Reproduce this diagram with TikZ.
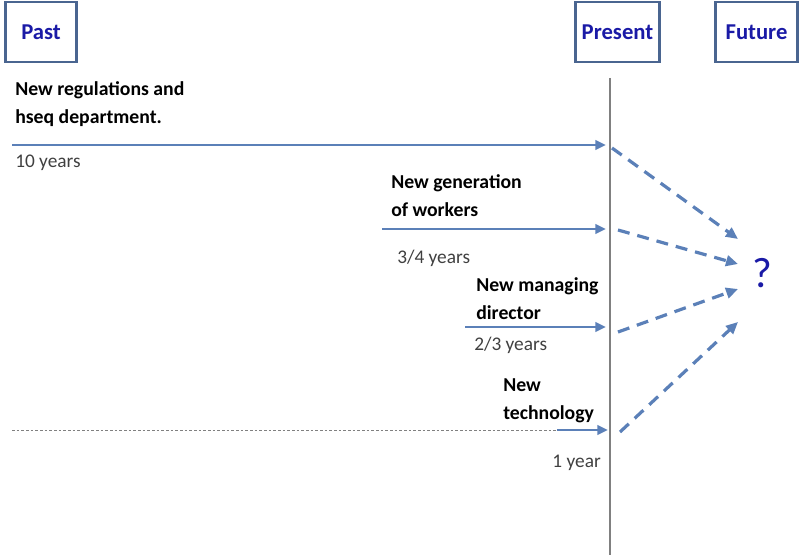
\documentclass[tikz,border=0pt]{standalone}
\usepackage{fontspec}
\setmainfont{Carlito}
\usetikzlibrary{arrows.meta}
\definecolor{boxborder}{HTML}{4A6590}
\definecolor{titleblue}{HTML}{1A1AA6}
\definecolor{arrowblue}{HTML}{5B80B8}
\definecolor{linegray}{HTML}{808080}
\begin{document}
\begin{tikzpicture}[x=0.75pt,y=-0.75pt,
  titlebox/.style={draw=boxborder,line width=2.2pt,minimum height=45pt,inner sep=0pt,font=\fontsize{17}{20}\selectfont\bfseries,text=titleblue},
  lbl/.style={anchor=north west,align=left,inner sep=0pt,font=\fontsize{14.8}{21}\selectfont\bfseries},
  yrs/.style={anchor=north west,inner sep=0pt,font=\fontsize{14.5}{17}\selectfont,text=black!75},
  solidarrow/.style={draw=arrowblue,line width=2pt,-{Triangle[length=8pt,width=7pt]}},
  dasharrow/.style={draw=arrowblue,line width=2.4pt,dash pattern=on 9pt off 6pt,-{Triangle[length=9pt,width=8pt]}}]
\useasboundingbox (0,0) rectangle (799,555);
% title boxes
\node[titlebox,minimum width=53pt] (past) at (41,32) {Past};
\node[titlebox,minimum width=63pt] (present) at (617.5,32) {Present};
\node[titlebox,minimum width=61pt] (future) at (756.5,32) {Future};
% present line
\coordinate (vtop) at (610,78);
\coordinate (vbot) at (610,555);
\draw[linegray,line width=0.9pt] (vtop) -- (vbot);
% labels
\node[lbl] (l1) at (15,81) {New regulations and\\hseq department.};
\node[yrs] (y1) at (15,155) {10 years};
\node[lbl] (l2) at (391,174) {New generation\\of workers};
\node[yrs] (y2) at (397,250) {3/4 years};
\node[lbl] (l3) at (476,277) {New managing\\director};
\node[yrs] (y3) at (474,337) {2/3 years};
\node[lbl] (l4) at (503,378) {New\\technology};
\node[yrs,anchor=north east] (y4) at (601,455) {1 year};
\node[text=titleblue,font=\fontsize{32}{36}\selectfont,inner sep=0pt] (q) at (762,273) {?};
% solid arrows
\coordinate (a1s) at (12,145); \coordinate (a1e) at (606,145);
\coordinate (a2s) at (382,229); \coordinate (a2e) at (606,229);
\coordinate (a3s) at (465,327); \coordinate (a3e) at (606,327);
\coordinate (d4s) at (12,430); \coordinate (a4s) at (557,430); \coordinate (a4e) at (608,430);
\draw[solidarrow] (a1s) -- (a1e);
\draw[solidarrow] (a2s) -- (a2e);
\draw[solidarrow] (a3s) -- (a3e);
\draw[linegray,line width=0.7pt,dash pattern=on 2pt off 1.5pt] (d4s) -- (a4s);
\draw[solidarrow] (a4s) -- (a4e);
% dashed arrows to future
\coordinate (b1s) at (612,148); \coordinate (b1e) at (738,239);
\coordinate (b2s) at (618,230); \coordinate (b2e) at (738,264);
\coordinate (b3s) at (618,332); \coordinate (b3e) at (738,289);
\coordinate (b4s) at (620,432); \coordinate (b4e) at (738,322);
\draw[dasharrow] (b1s) -- (b1e);
\draw[dasharrow] (b2s) -- (b2e);
\draw[dasharrow] (b3s) -- (b3e);
\draw[dasharrow] (b4s) -- (b4e);
\end{tikzpicture}
\end{document}
